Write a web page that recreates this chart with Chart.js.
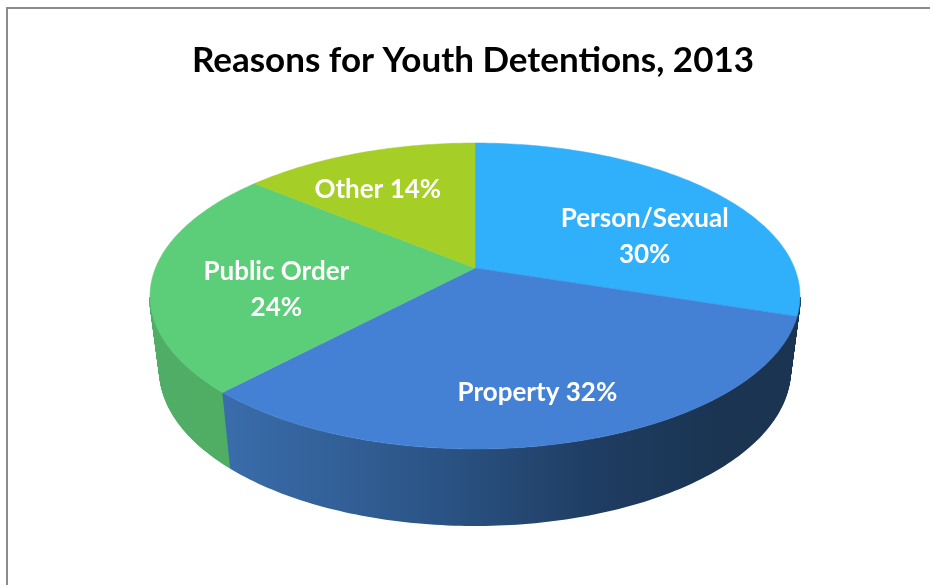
<!DOCTYPE html>
<html>
<head>
<meta charset="utf-8">
<title>Reasons for Youth Detentions, 2013</title>
<script src="https://cdn.jsdelivr.net/npm/chart.js@4"></script>
<style>
  html, body { margin: 0; padding: 0; background: #fff; overflow: hidden; }
  #frame { position: absolute; left: 6px; top: 7px; width: 930px; height: 585px;
           border-top: 2px solid #8c8c8c; border-left: 2px solid #8c8c8c; }
  #myChart { position: absolute; left: 0; top: 0; }
</style>
</head>
<body>
<div id="frame"></div>
<canvas id="myChart" width="930" height="585"></canvas>
<script>
var chartTitle = 'Reasons for Youth Detentions, 2013';
var categories = ['Person/Sexual', 'Property', 'Public Order', 'Other'];
var shares = [30, 32, 24, 14];
var topColors = ['#30b0fb', '#4480d3', '#5ccd78', '#a5ce26'];
var labelFont = 'bold 26px Lato, "Open Sans", sans-serif';

// the tilted pie: top face and base are ellipses, the apex sits above the centre (perspective)
var topFace = { cx: 475, cy: 296, rx: 325, ry: 153 };
var baseFace = { cx: 475, cy: 370, rx: 315, ry: 155 };
var tilt = 28 / 153;
// only this part of the rim has a visible wall
var wallFrom = Math.PI / 2 + Math.asin(tilt);
var wallTo = 3 * Math.PI / 2 - Math.asin(tilt);

function project(face, angle, r) {
    var x = Math.sin(angle) * r, y = -Math.cos(angle) * r;
    var d = 1 - tilt * y;
    return {
        x: face.cx + face.rx * x * Math.sqrt(1 - tilt * tilt) / d,
        y: face.cy + face.ry * (y - tilt) / d
    };
}

function tracePoints(ctx, face, a0, a1) {
    var n = Math.ceil((a1 - a0) * 60);
    for (var i = 0; i <= n; i++) {
        var p = project(face, a0 + (a1 - a0) * i / n, 1);
        ctx.lineTo(p.x, p.y);
    }
}

function sideFill(ctx, i) {
    var g;
    if (i === 1) {
        g = ctx.createLinearGradient(222, 0, 720, 0);
        g.addColorStop(0, '#3a6dab');
        g.addColorStop(0.4, '#2c5689');
        g.addColorStop(0.75, '#1f3d62');
        g.addColorStop(1, '#1a3452');
        return g;
    }
    if (i === 2) {
        g = ctx.createLinearGradient(150, 0, 228, 0);
        g.addColorStop(0, '#4fae66');
        g.addColorStop(1, '#50ad64');
        return g;
    }
    return i === 0 ? '#1a3452' : '#7f9b1c';
}

var pie3d = {
    id: 'pie3d',
    beforeDatasetsDraw: function (chart) {
        var ctx = chart.ctx;
        var arcs = chart.getDatasetMeta(0).data;
        var angles = arcs.map(function (arc) {
            return [arc.startAngle + Math.PI / 2, arc.endAngle + Math.PI / 2];
        });

        // wall: stack of outlines between the top face and the base
        ctx.save();
        ctx.lineWidth = 2;
        [3, 0, 2, 1].forEach(function (i) {
            var a0 = Math.max(angles[i][0], wallFrom);
            var a1 = Math.min(angles[i][1], wallTo);
            if (a1 <= a0) return;
            ctx.strokeStyle = sideFill(ctx, i);
            for (var t = 0.0125; t <= 1; t += 0.0125) {
                var face = {};
                ['cx', 'cy', 'rx', 'ry'].forEach(function (k) {
                    face[k] = topFace[k] + (baseFace[k] - topFace[k]) * t;
                });
                ctx.beginPath();
                tracePoints(ctx, face, a0, a1);
                ctx.stroke();
            }
        });

        // top face
        angles.forEach(function (a, i) {
            var apex = project(topFace, 0, 0);
            ctx.beginPath();
            ctx.moveTo(apex.x, apex.y);
            tracePoints(ctx, topFace, a[0], a[1]);
            ctx.closePath();
            ctx.fillStyle = topColors[i];
            ctx.strokeStyle = topColors[i];
            ctx.lineWidth = 0.5;
            ctx.fill();
            ctx.stroke();
        });

        // slice labels, placed from each slice's middle angle
        var nudges = [[24, 18], [9, 28], [-6, 16], [-23, -5]];
        var stacked = [true, false, true, false];
        ctx.font = labelFont;
        ctx.fillStyle = '#ffffff';
        ctx.textAlign = 'center';
        ctx.textBaseline = 'middle';
        angles.forEach(function (a, i) {
            var p = project(topFace, (a[0] + a[1]) / 2, 0.6);
            var x = p.x + nudges[i][0], y = p.y + nudges[i][1];
            if (stacked[i]) {
                ctx.fillText(categories[i], x, y - 18);
                ctx.fillText(shares[i] + '%', x, y + 18);
            } else {
                ctx.fillText(categories[i] + ' ' + shares[i] + '%', x, y);
            }
        });
        ctx.restore();
        return false;
    }
};

var ctx = document.getElementById('myChart');

var chartGraph = new Chart(ctx, {
    type: 'pie',
    plugins: [pie3d],
    data: {
        labels: categories,
        datasets: [{
            data: shares,
            backgroundColor: topColors,
            borderWidth: 0
        }]
    },
    options: {
        responsive: false,
        animation: false,
        layout: { padding: { left: 16 } },
        plugins: {
            legend: { display: false },
            tooltip: { enabled: false },
            title: {
                display: true,
                text: chartTitle,
                color: '#000000',
                font: { family: 'Lato, "Open Sans", sans-serif', size: 35, weight: 'bold' },
                padding: { top: 40, bottom: 10 }
            }
        }
    }
});
</script>
</body>
</html>
